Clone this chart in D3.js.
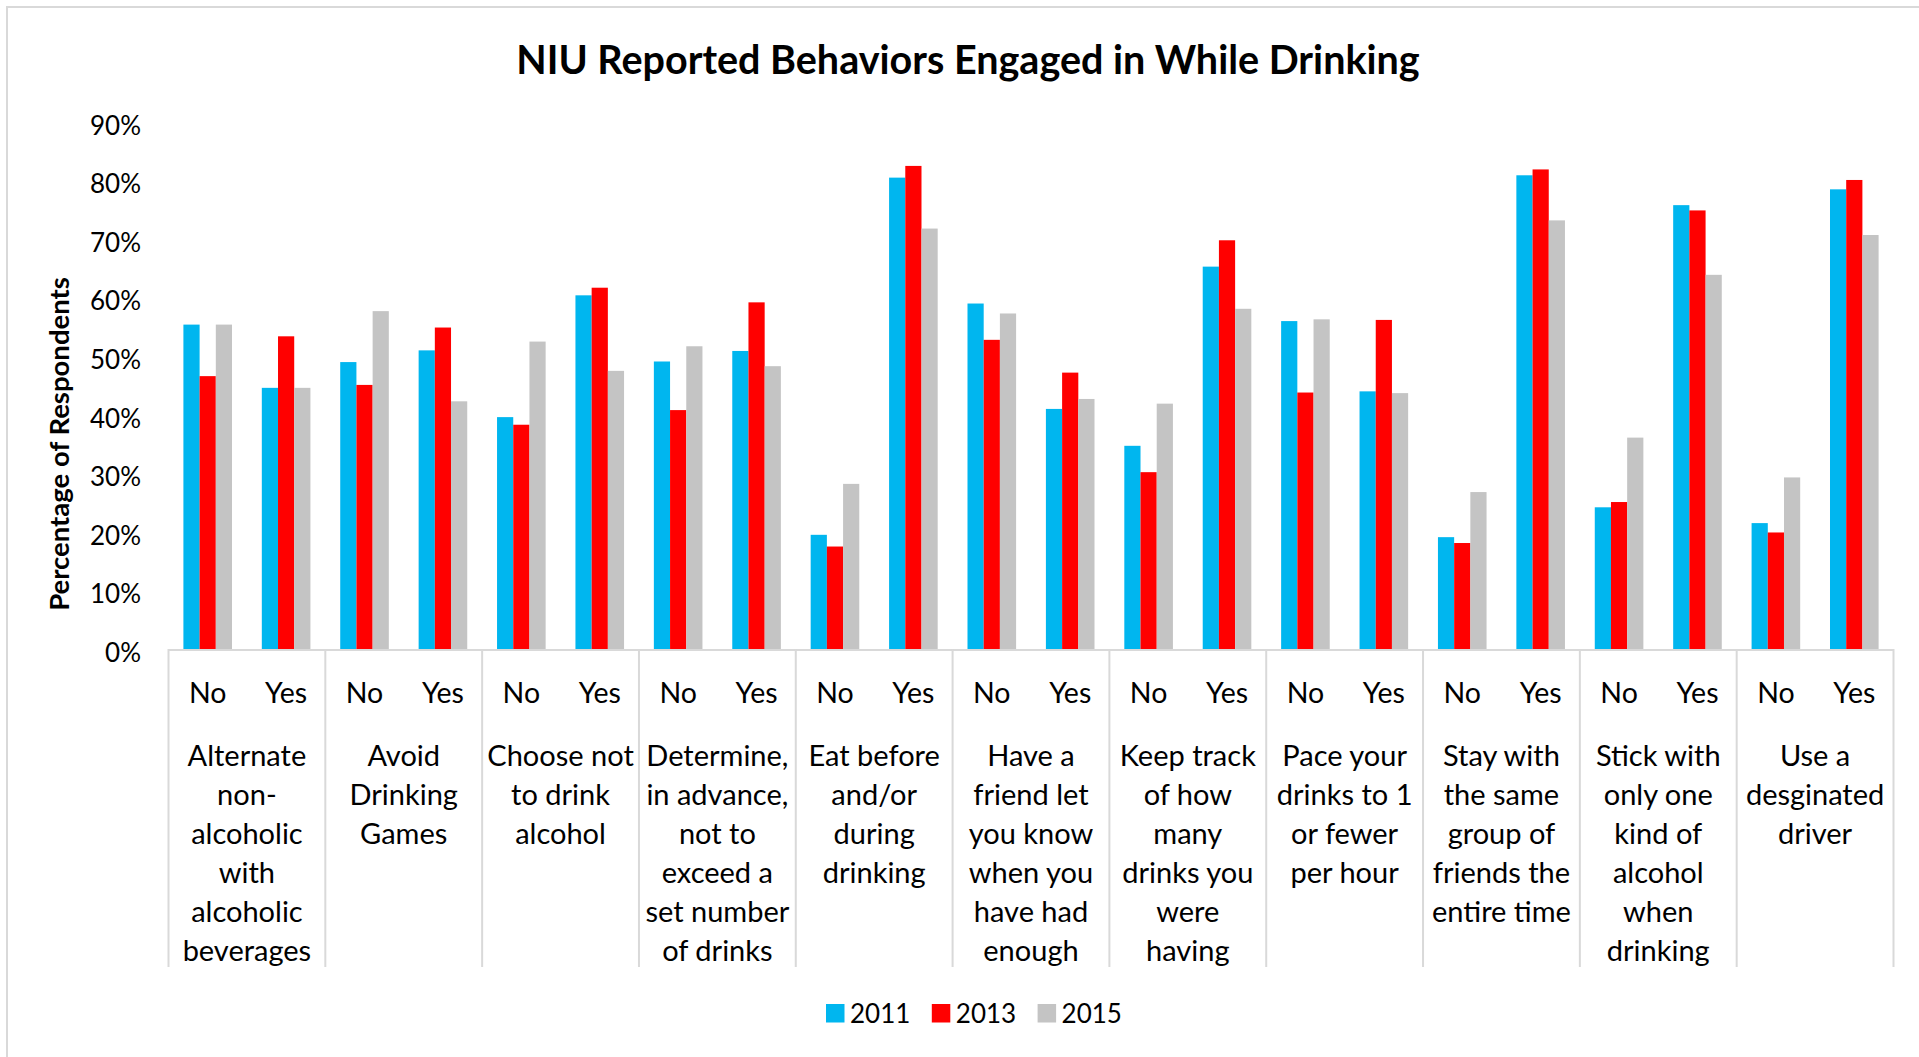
<!DOCTYPE html>
<html>
<head>
<meta charset="utf-8">
<script src="https://cdn.jsdelivr.net/npm/d3@7"></script>
<style>
  body { margin: 0; background: #fff; }
  text { font-family: Lato, "Open Sans", sans-serif; fill: #000; }
</style>
</head>
<body>
<svg id="chart"></svg>
<script>
const behaviors = [
  'Alternate non-alcoholic with alcoholic beverages',
  'Avoid Drinking Games',
  'Choose not to drink alcohol',
  'Determine, in advance, not to exceed a set number of drinks',
  'Eat before and/or during drinking',
  'Have a friend let you know when you have had enough',
  'Keep track of how many drinks you were having',
  'Pace your drinks to 1 or fewer per hour',
  'Stay with the same group of friends the entire time',
  'Stick with only one kind of alcohol when drinking',
  'Use a desginated driver'
];

// wrapped the way the picture wraps them
const behaviorLines = [
  ['Alternate', 'non-', 'alcoholic', 'with', 'alcoholic', 'beverages'],
  ['Avoid', 'Drinking', 'Games'],
  ['Choose not', 'to drink', 'alcohol'],
  ['Determine,', 'in advance,', 'not to', 'exceed a', 'set number', 'of drinks'],
  ['Eat before', 'and/or', 'during', 'drinking'],
  ['Have a', 'friend let', 'you know', 'when you', 'have had', 'enough'],
  ['Keep track', 'of how', 'many', 'drinks you', 'were', 'having'],
  ['Pace your', 'drinks to 1', 'or fewer', 'per hour'],
  ['Stay with', 'the same', 'group of', 'friends the', 'entire time'],
  ['Stick with', 'only one', 'kind of', 'alcohol', 'when', 'drinking'],
  ['Use a', 'desginated', 'driver']
];

const answers = ['No', 'Yes'];
const years = ['2011', '2013', '2015'];
const yearColors = ['#00b6ef', '#ff0000', '#c4c4c4'];

// percent, [No, Yes] per behavior
const values2011 = [
  [55.4, 44.6], [49.0, 51.0], [39.6, 60.4], [49.1, 50.9], [19.5, 80.5], [59.0, 41.0],
  [34.7, 65.3], [56.0, 44.0], [19.1, 80.9], [24.2, 75.8], [21.5, 78.5]
];
const values2013 = [
  [46.6, 53.4], [45.1, 54.9], [38.3, 61.7], [40.8, 59.2], [17.5, 82.5], [52.8, 47.2],
  [30.2, 69.8], [43.8, 56.2], [18.1, 81.9], [25.1, 74.9], [19.9, 80.1]
];
const values2015 = [
  [55.4, 44.6], [57.7, 42.3], [52.5, 47.5], [51.7, 48.3], [28.2, 71.8], [57.3, 42.7],
  [41.9, 58.1], [56.3, 43.7], [26.8, 73.2], [36.1, 63.9], [29.3, 70.7]
];
const yTicks = [0, 10, 20, 30, 40, 50, 60, 70, 80, 90];

const width = 1919, height = 1057;
const svg = d3.select('#chart').attr('width', width).attr('height', height);

const rows = [];
behaviors.forEach((b, i) => {
  answers.forEach((a, j) => {
    [values2011, values2013, values2015].forEach((vals, k) => {
      rows.push({ behavior: b, answer: a, year: years[k], value: vals[i][j] });
    });
  });
});

const x0 = d3.scaleBand().domain(behaviors).range([168.5, 1893.5]);
const x1 = d3.scaleBand().domain(answers).range([0, x0.bandwidth()]);
const x2 = d3.scaleBand().domain(years).range([0, x1.bandwidth()]).paddingOuter(0.92);
const y = d3.scaleLinear().domain([0, 90]).range([649, 122]);
const color = d3.scaleOrdinal().domain(years).range(yearColors);

// frame
svg.append('path')
  .attr('d', `M7,${height} V7 H${width}`)
  .attr('fill', 'none')
  .attr('stroke', '#d9d9d9')
  .attr('stroke-width', 2);

// title
svg.append('text')
  .attr('x', 968)
  .attr('y', 74)
  .attr('text-anchor', 'middle')
  .style('font-size', '39.5px')
  .style('font-weight', 'bold')
  .text('NIU Reported Behaviors Engaged in While Drinking');

// y axis
const yAxis = svg.append('g')
  .attr('transform', 'translate(141,0)')
  .call(d3.axisLeft(y).tickValues(yTicks).tickSize(0).tickPadding(0).tickFormat(d => d + '%'));
yAxis.select('.domain').remove();
yAxis.selectAll('text')
  .attr('dy', '0.47em')
  .style('font-size', '26px')
  .style('font-family', 'Lato, sans-serif')
  .attr('fill', '#000');

svg.append('text')
  .attr('transform', 'translate(69,444) rotate(-90)')
  .attr('text-anchor', 'middle')
  .style('font-size', '27.5px')
  .style('font-weight', 'bold')
  .text('Percentage of Respondents');

// bars
svg.append('g')
  .selectAll('rect')
  .data(rows)
  .join('rect')
  .attr('x', d => x0(d.behavior) + x1(d.answer) + x2(d.year))
  .attr('y', d => y(d.value))
  .attr('width', x2.bandwidth())
  .attr('height', d => y(0) - y(d.value))
  .attr('fill', d => color(d.year));

// x axis line and group separators
svg.append('line')
  .attr('x1', x0.range()[0]).attr('x2', x0.range()[1])
  .attr('y1', y(0) + 1).attr('y2', y(0) + 1)
  .attr('stroke', '#d9d9d9')
  .attr('stroke-width', 2);

const edges = behaviors.map(b => x0(b)).concat([x0.range()[1]]);
svg.append('g')
  .selectAll('line')
  .data(edges)
  .join('line')
  .attr('x1', d => d).attr('x2', d => d)
  .attr('y1', y(0)).attr('y2', 967)
  .attr('stroke', '#d9d9d9')
  .attr('stroke-width', 2);

// No / Yes labels
const answerLabels = [];
behaviors.forEach(b => answers.forEach(a => answerLabels.push({ b, a })));
svg.append('g')
  .selectAll('text')
  .data(answerLabels)
  .join('text')
  .attr('x', d => x0(d.b) + x1(d.a) + x1.bandwidth() / 2)
  .attr('y', 703)
  .attr('text-anchor', 'middle')
  .style('font-size', '28.5px')
  .text(d => d.a);

// behavior labels
const groupLabels = svg.append('g')
  .selectAll('text')
  .data(behaviors)
  .join('text')
  .attr('x', d => x0(d) + x0.bandwidth() / 2)
  .attr('y', 766)
  .attr('text-anchor', 'middle')
  .style('font-size', '29px');

groupLabels.selectAll('tspan')
  .data((d, i) => behaviorLines[i])
  .join('tspan')
  .attr('x', function () { return d3.select(this.parentNode).attr('x'); })
  .attr('dy', (d, i) => i === 0 ? 0 : 38.9)
  .text(d => d);

// legend
const legend = svg.append('g')
  .selectAll('g')
  .data(years)
  .join('g')
  .attr('transform', (d, i) => `translate(${826 + i * 105.8},1004)`);
legend.append('rect')
  .attr('width', 18.5)
  .attr('height', 18.5)
  .attr('fill', d => color(d));
legend.append('text')
  .attr('x', 24)
  .attr('y', 18.5)
  .style('font-size', '26px')
  .text(d => d);
</script>
</body>
</html>
